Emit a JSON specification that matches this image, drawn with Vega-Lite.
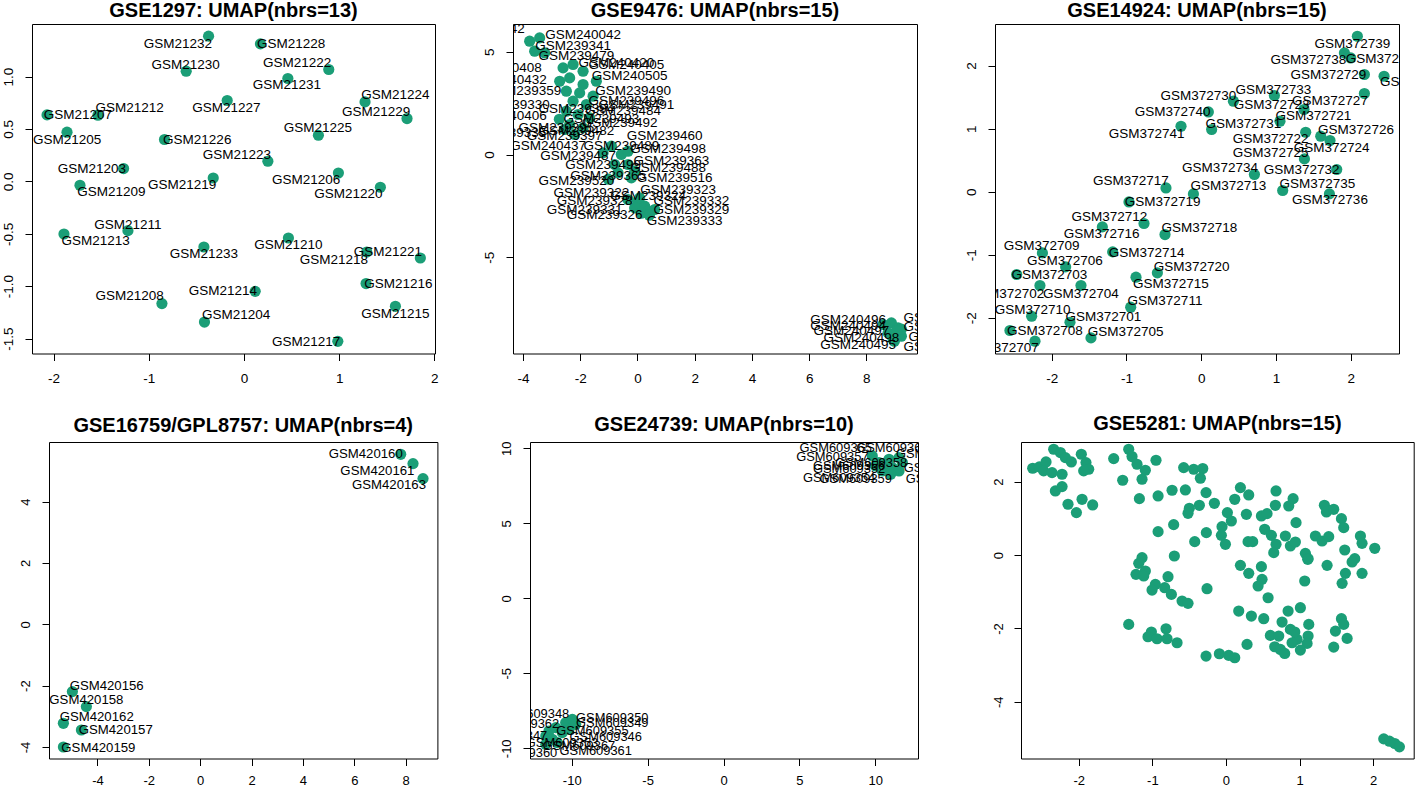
{
  "$schema": "https://vega.github.io/schema/vega-lite/v6.json",
  "background": "white",
  "padding": 0,
  "config": {
    "view": {"stroke": "#000", "strokeWidth": 1, "fill": "white"},
    "axis": {"domain": false, "grid": false, "tickSize": 7, "tickColor": "#000", "tickWidth": 1, "labelFont": "Liberation Sans", "labelFontSize": 13.5, "labelColor": "#000", "labelOverlap": false, "labelFlush": false, "labelBound": false, "titleOpacity": 0, "titleFontSize": 1, "titleFont": "Liberation Sans"},
    "axisX": {"labelPadding": 11, "labelBaseline": "top", "labelAngle": 0, "labelAlign": "center"},
    "axisY": {"labelPadding": 12.3, "labelAngle": -90, "labelAlign": "center", "labelBaseline": "alphabetic"},
    "title": {"font": "Liberation Sans", "fontSize": 20, "fontWeight": "bold", "color": "#000", "anchor": "middle", "baseline": "alphabetic", "frame": "group"},
    "text": {"font": "Liberation Sans", "fontSize": 13.5, "color": "#000", "align": "center", "baseline": "middle"},
    "circle": {"size": 125, "color": "#1B9E77", "opacity": 1}
  },
  "datasets": {
    "p1": [
      {"s": "GSM21232", "x": -0.372, "y": 1.385, "lx": -0.694, "ly": 1.311},
      {"s": "GSM21228", "x": 0.173, "y": 1.311, "lx": 0.496, "ly": 1.311},
      {"s": "GSM21230", "x": -0.607, "y": 1.051, "lx": -0.614, "ly": 1.114},
      {"s": "GSM21222", "x": 0.891, "y": 1.067, "lx": 0.559, "ly": 1.127},
      {"s": "GSM21231", "x": 0.461, "y": 0.981, "lx": 0.450, "ly": 0.917},
      {"s": "GSM21224", "x": 1.272, "y": 0.758, "lx": 1.591, "ly": 0.819},
      {"s": "GSM21229", "x": 1.713, "y": 0.599, "lx": 1.388, "ly": 0.659},
      {"s": "GSM21227", "x": -0.176, "y": 0.771, "lx": -0.184, "ly": 0.700},
      {"s": "GSM21212", "x": -1.534, "y": 0.631, "lx": -1.202, "ly": 0.700},
      {"s": "GSM21207", "x": -2.069, "y": 0.634, "lx": -1.744, "ly": 0.634},
      {"s": "GSM21205", "x": -1.859, "y": 0.469, "lx": -1.859, "ly": 0.399},
      {"s": "GSM21226", "x": -0.835, "y": 0.399, "lx": -0.491, "ly": 0.399},
      {"s": "GSM21225", "x": 0.782, "y": 0.440, "lx": 0.776, "ly": 0.510},
      {"s": "GSM21223", "x": 0.251, "y": 0.192, "lx": -0.075, "ly": 0.256},
      {"s": "GSM21203", "x": -1.265, "y": 0.122, "lx": -1.597, "ly": 0.122},
      {"s": "GSM21219", "x": -0.323, "y": 0.032, "lx": -0.649, "ly": -0.031},
      {"s": "GSM21206", "x": 0.992, "y": 0.080, "lx": 0.653, "ly": 0.010},
      {"s": "GSM21220", "x": 1.433, "y": -0.056, "lx": 1.097, "ly": -0.120},
      {"s": "GSM21209", "x": -1.723, "y": -0.037, "lx": -1.394, "ly": -0.104},
      {"s": "GSM21211", "x": -1.219, "y": -0.470, "lx": -1.219, "ly": -0.412},
      {"s": "GSM21213", "x": -1.891, "y": -0.502, "lx": -1.559, "ly": -0.572},
      {"s": "GSM21233", "x": -0.421, "y": -0.626, "lx": -0.421, "ly": -0.693},
      {"s": "GSM21210", "x": 0.467, "y": -0.540, "lx": 0.467, "ly": -0.610},
      {"s": "GSM21221", "x": 1.853, "y": -0.731, "lx": 1.511, "ly": -0.674},
      {"s": "GSM21218", "x": 1.290, "y": -0.674, "lx": 0.944, "ly": -0.746},
      {"s": "GSM21216", "x": 1.283, "y": -0.975, "lx": 1.622, "ly": -0.979},
      {"s": "GSM21215", "x": 1.591, "y": -1.192, "lx": 1.591, "ly": -1.262},
      {"s": "GSM21208", "x": -0.862, "y": -1.166, "lx": -1.202, "ly": -1.096},
      {"s": "GSM21214", "x": 0.118, "y": -1.049, "lx": -0.222, "ly": -1.049},
      {"s": "GSM21204", "x": -0.415, "y": -1.342, "lx": -0.082, "ly": -1.271},
      {"s": "GSM21217", "x": 0.986, "y": -1.526, "lx": 0.653, "ly": -1.532}
    ],
    "p2": [
      {"s": "GSM239342", "x": -3.768, "y": 5.519, "lx": -5.264, "ly": 6.103},
      {"s": "GSM240042", "x": -3.418, "y": 5.680, "lx": -1.901, "ly": 5.845},
      {"s": "GSM239341", "x": -3.593, "y": 5.032, "lx": -2.251, "ly": 5.275},
      {"s": "GSM240408", "x": -3.244, "y": 4.949, "lx": -4.670, "ly": 4.218},
      {"s": "GSM240432", "x": -2.600, "y": 4.218, "lx": -4.495, "ly": 3.653},
      {"s": "GSM240420", "x": -2.251, "y": 4.384, "lx": -0.738, "ly": 4.462},
      {"s": "GSM240405", "x": -1.901, "y": 4.057, "lx": -0.388, "ly": 4.384},
      {"s": "GSM239359", "x": -2.719, "y": 3.570, "lx": -3.988, "ly": 3.083},
      {"s": "GSM239479", "x": -2.370, "y": 3.731, "lx": -2.136, "ly": 4.788},
      {"s": "GSM240505", "x": -1.901, "y": 3.410, "lx": -0.273, "ly": 3.814},
      {"s": "GSM239490", "x": -1.437, "y": 3.570, "lx": -0.154, "ly": 3.083},
      {"s": "GSM239330", "x": -2.485, "y": 3.083, "lx": -4.390, "ly": 2.435},
      {"s": "GSM239394", "x": -2.020, "y": 3.000, "lx": -2.136, "ly": 2.207},
      {"s": "GSM239496", "x": -1.552, "y": 2.840, "lx": -0.388, "ly": 2.596},
      {"s": "GSM239482", "x": -2.251, "y": 2.596, "lx": -2.136, "ly": 1.135},
      {"s": "GSM239491", "x": -1.786, "y": 2.435, "lx": -0.038, "ly": 2.435},
      {"s": "GSM240406", "x": -2.485, "y": 2.109, "lx": -4.495, "ly": 1.866},
      {"s": "GSM239493", "x": -2.076, "y": 1.948, "lx": -1.262, "ly": 1.719},
      {"s": "GSM239484", "x": -1.671, "y": 1.783, "lx": -0.503, "ly": 2.109},
      {"s": "GSM239335", "x": -2.370, "y": 1.461, "lx": -4.512, "ly": 1.052},
      {"s": "GSM239492", "x": -1.901, "y": 1.296, "lx": -0.622, "ly": 1.539},
      {"s": "GSM239395", "x": -2.730, "y": 1.719, "lx": -2.835, "ly": 1.296},
      {"s": "GSM239397", "x": -2.195, "y": 0.974, "lx": -2.545, "ly": 0.891},
      {"s": "GSM240437", "x": -2.545, "y": 1.218, "lx": -3.125, "ly": 0.404},
      {"s": "GSM239460", "x": -0.912, "y": 0.404, "lx": 0.951, "ly": 0.891},
      {"s": "GSM239489", "x": -1.202, "y": 0.078, "lx": -0.563, "ly": 0.404},
      {"s": "GSM239487", "x": -0.563, "y": 0.0, "lx": -2.076, "ly": -0.083},
      {"s": "GSM239498", "x": -0.329, "y": 0.161, "lx": 1.070, "ly": 0.244},
      {"s": "GSM239499", "x": -0.797, "y": -0.487, "lx": -1.202, "ly": -0.487},
      {"s": "GSM239363", "x": -0.329, "y": -0.487, "lx": 1.185, "ly": -0.326},
      {"s": "GSM239365", "x": -0.678, "y": -0.896, "lx": -1.028, "ly": -1.057},
      {"s": "GSM239488", "x": -0.098, "y": -0.813, "lx": 1.070, "ly": -0.653},
      {"s": "GSM239516", "x": -0.213, "y": -1.140, "lx": 1.300, "ly": -1.140},
      {"s": "GSM239520", "x": -1.017, "y": -1.203, "lx": -2.136, "ly": -1.300},
      {"s": "GSM239322", "x": -0.329, "y": -2.192, "lx": -1.611, "ly": -1.870},
      {"s": "GSM239324", "x": 0.021, "y": -2.275, "lx": 0.371, "ly": -2.031},
      {"s": "GSM239331", "x": 0.252, "y": -2.518, "lx": -1.846, "ly": -2.679},
      {"s": "GSM239328", "x": -0.098, "y": -2.601, "lx": -1.496, "ly": -2.275},
      {"s": "GSM239329", "x": 0.370, "y": -2.762, "lx": 1.884, "ly": -2.679},
      {"s": "GSM239332", "x": 0.601, "y": -2.679, "lx": 1.884, "ly": -2.275},
      {"s": "GSM239323", "x": 0.077, "y": -2.114, "lx": 1.419, "ly": -1.705},
      {"s": "GSM239326", "x": 0.136, "y": -2.859, "lx": -1.146, "ly": -2.923},
      {"s": "GSM239333", "x": 0.416, "y": -2.957, "lx": 1.650, "ly": -3.249},
      {"s": "GSM240496", "x": 8.584, "y": -8.281, "lx": 7.361, "ly": -8.037},
      {"s": "GSM240494", "x": 8.875, "y": -8.203, "lx": 7.361, "ly": -8.364},
      {"s": "GSM240500", "x": 9.109, "y": -8.446, "lx": 10.622, "ly": -8.412},
      {"s": "GSM240497", "x": 8.759, "y": -8.690, "lx": 7.476, "ly": -8.573},
      {"s": "GSM240495", "x": 9.224, "y": -8.850, "lx": 7.711, "ly": -9.255},
      {"s": "GSM240498", "x": 8.934, "y": -9.011, "lx": 7.826, "ly": -8.933},
      {"s": "GSM240499", "x": 9.224, "y": -8.510, "lx": 10.622, "ly": -7.959},
      {"s": "GSM240501", "x": 9.049, "y": -8.607, "lx": 10.797, "ly": -8.899},
      {"s": "GSM240502", "x": 8.979, "y": -9.094, "lx": 10.622, "ly": -9.387}
    ],
    "p3": [
      {"s": "GSM372739", "x": 2.089, "y": 2.465, "lx": 2.022, "ly": 2.343},
      {"s": "GSM372738", "x": 1.916, "y": 2.200, "lx": 1.434, "ly": 2.085},
      {"s": "GSM372737", "x": 2.000, "y": 2.121, "lx": 2.442, "ly": 2.111},
      {"s": "GSM372729", "x": 2.183, "y": 1.858, "lx": 1.702, "ly": 1.858},
      {"s": "GSM372728", "x": 2.446, "y": 1.831, "lx": 2.900, "ly": 1.736},
      {"s": "GSM372727", "x": 2.183, "y": 1.557, "lx": 1.723, "ly": 1.435},
      {"s": "GSM372730", "x": 0.431, "y": 1.435, "lx": -0.037, "ly": 1.525},
      {"s": "GSM372733", "x": 0.979, "y": 1.525, "lx": 0.966, "ly": 1.620},
      {"s": "GSM372723", "x": 1.375, "y": 1.303, "lx": 0.943, "ly": 1.382},
      {"s": "GSM372740", "x": 0.096, "y": 1.265, "lx": -0.381, "ly": 1.260},
      {"s": "GSM372721", "x": 1.054, "y": 1.118, "lx": 1.501, "ly": 1.197},
      {"s": "GSM372731", "x": 0.140, "y": 0.986, "lx": 0.565, "ly": 1.075},
      {"s": "GSM372741", "x": -0.270, "y": 1.038, "lx": -0.729, "ly": 0.922},
      {"s": "GSM372726", "x": 1.599, "y": 0.880, "lx": 2.071, "ly": 0.986},
      {"s": "GSM372722", "x": 1.398, "y": 0.943, "lx": 0.930, "ly": 0.843},
      {"s": "GSM372724", "x": 1.723, "y": 0.811, "lx": 1.746, "ly": 0.694},
      {"s": "GSM372725", "x": 1.381, "y": 0.520, "lx": 0.930, "ly": 0.615},
      {"s": "GSM372734", "x": 0.712, "y": 0.273, "lx": 0.252, "ly": 0.377},
      {"s": "GSM372732", "x": 1.813, "y": 0.352, "lx": 1.344, "ly": 0.352},
      {"s": "GSM372717", "x": -0.471, "y": 0.060, "lx": -0.939, "ly": 0.166},
      {"s": "GSM372713", "x": -0.104, "y": -0.035, "lx": 0.364, "ly": 0.087},
      {"s": "GSM372735", "x": 1.090, "y": 0.019, "lx": 1.554, "ly": 0.124},
      {"s": "GSM372736", "x": 1.715, "y": -0.035, "lx": 1.723, "ly": -0.135},
      {"s": "GSM372719", "x": -0.966, "y": -0.162, "lx": -0.515, "ly": -0.162},
      {"s": "GSM372712", "x": -0.765, "y": -0.504, "lx": -1.228, "ly": -0.399},
      {"s": "GSM372716", "x": -1.322, "y": -0.558, "lx": -1.331, "ly": -0.663},
      {"s": "GSM372718", "x": -0.484, "y": -0.679, "lx": -0.025, "ly": -0.574},
      {"s": "GSM372709", "x": -2.124, "y": -0.970, "lx": -2.134, "ly": -0.864},
      {"s": "GSM372714", "x": -1.184, "y": -0.954, "lx": -0.729, "ly": -0.970},
      {"s": "GSM372706", "x": -1.813, "y": -1.192, "lx": -1.822, "ly": -1.091},
      {"s": "GSM372720", "x": -0.586, "y": -1.287, "lx": -0.127, "ly": -1.192},
      {"s": "GSM372703", "x": -2.468, "y": -1.313, "lx": -2.031, "ly": -1.313},
      {"s": "GSM372715", "x": -0.872, "y": -1.355, "lx": -0.404, "ly": -1.462},
      {"s": "GSM372702", "x": -2.157, "y": -1.487, "lx": -2.606, "ly": -1.614},
      {"s": "GSM372704", "x": -1.608, "y": -1.487, "lx": -1.608, "ly": -1.614},
      {"s": "GSM372711", "x": -0.943, "y": -1.831, "lx": -0.484, "ly": -1.736},
      {"s": "GSM372710", "x": -2.268, "y": -1.974, "lx": -2.254, "ly": -1.883},
      {"s": "GSM372701", "x": -1.755, "y": -2.069, "lx": -1.308, "ly": -1.985},
      {"s": "GSM372708", "x": -2.558, "y": -2.200, "lx": -2.090, "ly": -2.211},
      {"s": "GSM372705", "x": -1.474, "y": -2.318, "lx": -1.010, "ly": -2.223},
      {"s": "GSM372707", "x": -2.223, "y": -2.370, "lx": -2.678, "ly": -2.476}
    ],
    "p4": [
      {"s": "GSM420160", "x": 7.805, "y": 5.543, "lx": 6.442, "ly": 5.543},
      {"s": "GSM420161", "x": 8.284, "y": 5.240, "lx": 6.897, "ly": 4.998},
      {"s": "GSM420163", "x": 8.673, "y": 4.751, "lx": 7.349, "ly": 4.532},
      {"s": "GSM420156", "x": -4.975, "y": -2.194, "lx": -3.640, "ly": -2.012},
      {"s": "GSM420158", "x": -4.430, "y": -2.684, "lx": -4.430, "ly": -2.478},
      {"s": "GSM420162", "x": -5.325, "y": -3.228, "lx": -4.029, "ly": -3.009},
      {"s": "GSM420157", "x": -4.624, "y": -3.446, "lx": -3.289, "ly": -3.446},
      {"s": "GSM420159", "x": -5.325, "y": -4.001, "lx": -3.963, "ly": -4.021}
    ],
    "p5": [
      {"s": "GSM609348", "x": -11.71, "y": -9.18, "lx": -12.55, "ly": -7.73},
      {"s": "GSM609350", "x": -11.05, "y": -8.62, "lx": -7.33, "ly": -7.95},
      {"s": "GSM609349", "x": -10.40, "y": -8.29, "lx": -7.33, "ly": -8.29},
      {"s": "GSM609355", "x": -9.96, "y": -8.07, "lx": -8.64, "ly": -8.85},
      {"s": "GSM609346", "x": -11.28, "y": -9.40, "lx": -7.76, "ly": -9.25},
      {"s": "GSM609367", "x": -10.62, "y": -8.95, "lx": -9.52, "ly": -9.85},
      {"s": "GSM609361", "x": -10.95, "y": -9.62, "lx": -8.42, "ly": -10.18},
      {"s": "GSM609362", "x": -10.18, "y": -8.73, "lx": -13.21, "ly": -8.40},
      {"s": "GSM609347", "x": -11.50, "y": -8.85, "lx": -14.00, "ly": -9.18},
      {"s": "GSM609360", "x": -11.71, "y": -9.73, "lx": -13.34, "ly": -10.29},
      {"s": "GSM609353", "x": -9.74, "y": -8.40, "lx": -10.64, "ly": -9.67},
      {"s": "GSM609365", "x": 9.80, "y": 9.49, "lx": 7.39, "ly": 10.05},
      {"s": "GSM609357", "x": 10.24, "y": 9.05, "lx": 7.17, "ly": 9.45},
      {"s": "GSM609366", "x": 10.90, "y": 9.27, "lx": 11.12, "ly": 10.05},
      {"s": "GSM609364", "x": 11.56, "y": 9.38, "lx": 13.74, "ly": 9.60},
      {"s": "GSM609363", "x": 11.78, "y": 9.05, "lx": 14.26, "ly": 8.71},
      {"s": "GSM609356", "x": 11.12, "y": 8.71, "lx": 8.27, "ly": 8.82},
      {"s": "GSM609352", "x": 10.46, "y": 8.49, "lx": 8.27, "ly": 8.60},
      {"s": "GSM609351", "x": 11.56, "y": 8.49, "lx": 14.39, "ly": 7.93},
      {"s": "GSM609354", "x": 10.02, "y": 8.82, "lx": 7.61, "ly": 8.05},
      {"s": "GSM609359", "x": 11.01, "y": 8.27, "lx": 8.71, "ly": 7.93},
      {"s": "GSM609358", "x": 10.60, "y": 9.00, "lx": 9.72, "ly": 9.00}
    ],
    "p6": [
      {"x": -2.626, "y": 2.365}, {"x": -2.536, "y": 2.401}, {"x": -2.445, "y": 2.537}, {"x": -2.477, "y": 2.292},
      {"x": -2.341, "y": 2.883}, {"x": -2.250, "y": 2.792}, {"x": -2.182, "y": 2.655}, {"x": -2.101, "y": 2.537},
      {"x": -2.227, "y": 2.201}, {"x": -2.363, "y": 2.246}, {"x": -1.965, "y": 2.746}, {"x": -1.902, "y": 2.519},
      {"x": -1.865, "y": 2.337}, {"x": -1.933, "y": 2.292}, {"x": -2.318, "y": 1.746}, {"x": -2.227, "y": 1.865},
      {"x": -2.146, "y": 1.383}, {"x": -2.032, "y": 1.156}, {"x": -1.955, "y": 1.519}, {"x": -1.811, "y": 1.365},
      {"x": -1.525, "y": 2.628}, {"x": -1.403, "y": 2.037}, {"x": -1.321, "y": 2.883}, {"x": -1.276, "y": 2.683},
      {"x": -1.208, "y": 2.474}, {"x": -1.095, "y": 2.310}, {"x": -1.140, "y": 2.065}, {"x": -0.950, "y": 2.583},
      {"x": -1.176, "y": 1.537}, {"x": -0.922, "y": 1.610}, {"x": -0.732, "y": 1.765}, {"x": -0.551, "y": 1.774},
      {"x": -0.574, "y": 2.383}, {"x": -0.438, "y": 2.337}, {"x": -0.315, "y": 2.356}, {"x": -0.347, "y": 2.092},
      {"x": -0.270, "y": 1.701}, {"x": -0.157, "y": 1.410}, {"x": -0.361, "y": 1.355}, {"x": -0.497, "y": 1.274},
      {"x": -0.515, "y": 1.137}, {"x": -0.922, "y": 0.637}, {"x": -0.710, "y": 0.828}, {"x": -0.424, "y": 0.365},
      {"x": -0.266, "y": 0.610}, {"x": 0.020, "y": 1.156}, {"x": 0.120, "y": 1.519}, {"x": 0.197, "y": 1.837},
      {"x": 0.310, "y": 1.637}, {"x": 0.278, "y": 1.110}, {"x": -0.053, "y": 0.774}, {"x": 0.074, "y": 0.928},
      {"x": -0.062, "y": 0.537}, {"x": -0.007, "y": 0.292}, {"x": 0.301, "y": 0.365}, {"x": 0.364, "y": 0.365},
      {"x": 0.482, "y": 1.065}, {"x": 0.559, "y": 1.128}, {"x": 0.681, "y": 1.746}, {"x": 0.672, "y": 1.355},
      {"x": 0.854, "y": 1.337}, {"x": 0.913, "y": 1.537}, {"x": 0.953, "y": 0.883}, {"x": 0.527, "y": 0.701},
      {"x": 0.618, "y": 0.537}, {"x": 0.681, "y": 0.292}, {"x": 0.650, "y": 0.065}, {"x": 0.808, "y": 0.519},
      {"x": 0.876, "y": 0.246}, {"x": 0.944, "y": 0.356}, {"x": 1.216, "y": 0.519}, {"x": 1.307, "y": 0.383},
      {"x": 1.397, "y": 0.501}, {"x": 1.338, "y": 1.355}, {"x": 1.366, "y": 1.174}, {"x": 1.465, "y": 1.246},
      {"x": 1.570, "y": 0.992}, {"x": 1.601, "y": 0.746}, {"x": 1.828, "y": 0.519}, {"x": 1.850, "y": 0.319},
      {"x": 2.023, "y": 0.183}, {"x": 1.615, "y": 0.137}, {"x": 1.751, "y": -0.099}, {"x": 1.080, "y": 0.046},
      {"x": 1.117, "y": -0.099}, {"x": -0.701, "y": -0.026}, {"x": -1.140, "y": -0.072},
      {"x": -1.185, "y": -0.226}, {"x": -1.095, "y": -0.436}, {"x": -1.222, "y": -0.526}, {"x": -1.117, "y": -0.572},
      {"x": -0.787, "y": -0.590}, {"x": -0.959, "y": -0.799}, {"x": -1.004, "y": -0.954}, {"x": -0.832, "y": -0.890},
      {"x": -0.741, "y": -1.072}, {"x": -0.596, "y": -1.254}, {"x": -0.515, "y": -1.317}, {"x": -0.257, "y": -0.917},
      {"x": 0.197, "y": -0.281}, {"x": 0.310, "y": -0.499}, {"x": 0.482, "y": -0.317}, {"x": 0.491, "y": -0.663},
      {"x": 0.437, "y": -0.844}, {"x": 0.573, "y": -1.163}, {"x": 1.112, "y": -0.117}, {"x": 1.375, "y": -0.281},
      {"x": 1.715, "y": -0.190}, {"x": 1.624, "y": -0.499}, {"x": 1.850, "y": -0.499}, {"x": 1.579, "y": -0.772},
      {"x": 1.071, "y": -0.708}, {"x": 0.174, "y": -1.526}, {"x": 0.346, "y": -1.663}, {"x": 0.514, "y": -1.735},
      {"x": 0.763, "y": -1.826}, {"x": 0.845, "y": -1.526}, {"x": 1.012, "y": -1.435}, {"x": 1.126, "y": -1.890},
      {"x": 0.876, "y": -2.026}, {"x": 0.967, "y": -2.299}, {"x": 1.117, "y": -2.208}, {"x": 1.103, "y": -2.408},
      {"x": 1.012, "y": -2.590}, {"x": 0.604, "y": -2.190}, {"x": 0.718, "y": -2.208}, {"x": 0.663, "y": -2.499},
      {"x": 0.740, "y": -2.572}, {"x": 0.799, "y": -2.681}, {"x": 1.570, "y": -1.735}, {"x": 1.601, "y": -1.890},
      {"x": 1.488, "y": -2.072}, {"x": 1.647, "y": -2.272}, {"x": 1.465, "y": -2.508}, {"x": -1.321, "y": -1.890},
      {"x": -1.013, "y": -2.099}, {"x": -1.059, "y": -2.226}, {"x": -0.936, "y": -2.281}, {"x": -0.814, "y": -2.008},
      {"x": -0.800, "y": -2.281}, {"x": -0.664, "y": -2.390}, {"x": -0.270, "y": -2.754}, {"x": -0.089, "y": -2.690},
      {"x": 0.038, "y": -2.735}, {"x": 0.120, "y": -2.799}, {"x": 0.287, "y": -2.435}, {"x": 2.145, "y": -5.008},
      {"x": 2.222, "y": -5.072}, {"x": 2.295, "y": -5.135}, {"x": 2.358, "y": -5.226}, {"x": 0.936, "y": -2.099},
      {"x": 0.899, "y": -2.390}
    ]
  },
  "spacing": 0,
  "vconcat": [
    {
      "spacing": 0,
      "hconcat": [
        {"width": 1, "height": 1, "data": {"values": []}, "mark": {"type": "point", "opacity": 0, "size": 0}, "view": {"stroke": null, "fill": null}},
        {
          "width": 403, "height": 329.5,
          "title": {"text": "GSE1297: UMAP(nbrs=13)", "offset": 2.8},
          "data": {"name": "p1"},
          "layer": [
            {"mark": {"type": "circle", "clip": true},
             "encoding": {
               "x": {"field": "x", "type": "quantitative", "scale": {"domain": [-2.227, 2.007], "nice": false, "zero": false}, "axis": {"title": " ", "titleX": 409, "titleY": 57.6, "values": [-2, -1, 0, 1, 2], "format": "d", "labelExpr": "replace(datum.label, '\u2212', '-')"}},
               "y": {"field": "y", "type": "quantitative", "scale": {"domain": [-1.642, 1.501], "nice": false, "zero": false}, "axis": {"title": " ", "titleX": -28.8, "titleY": 164, "values": [-1.5, -1, -0.5, 0, 0.5, 1], "format": ".1f", "labelExpr": "replace(datum.label, '\u2212', '-')"}}
             }},
            {"mark": {"type": "text", "clip": true},
             "encoding": {
               "x": {"field": "lx", "type": "quantitative", "axis": {"title": " ", "titleX": 409, "titleY": 57.6, "values": [-2, -1, 0, 1, 2], "format": "d", "labelExpr": "replace(datum.label, '\u2212', '-')"}},
               "y": {"field": "ly", "type": "quantitative", "axis": {"title": " ", "titleX": -28.8, "titleY": 164, "values": [-1.5, -1, -0.5, 0, 0.5, 1], "format": ".1f", "labelExpr": "replace(datum.label, '\u2212', '-')"}},
               "text": {"field": "s"}
             }}
          ]
        },
        {
          "width": 404, "height": 329.5,
          "title": {"text": "GSE9476: UMAP(nbrs=15)", "offset": 2.8},
          "data": {"name": "p2"},
          "layer": [
            {"mark": {"type": "circle", "clip": true},
             "encoding": {
               "x": {"field": "x", "type": "quantitative", "scale": {"domain": [-4.35, 9.77], "nice": false, "zero": false}, "axis": {"title": " ", "titleX": 406, "titleY": 57.6, "values": [-4, -2, 0, 2, 4, 6, 8], "format": "d", "labelExpr": "replace(datum.label, '\u2212', '-')"}},
               "y": {"field": "y", "type": "quantitative", "scale": {"domain": [-9.693, 6.357], "nice": false, "zero": false}, "axis": {"title": " ", "titleX": -68.9, "titleY": 164, "values": [-5, 0, 5], "format": "d", "labelExpr": "replace(datum.label, '\u2212', '-')"}}
             }},
            {"mark": {"type": "text", "clip": true},
             "encoding": {
               "x": {"field": "lx", "type": "quantitative", "axis": {"title": " ", "titleX": 406, "titleY": 57.6, "values": [-4, -2, 0, 2, 4, 6, 8], "format": "d", "labelExpr": "replace(datum.label, '\u2212', '-')"}},
               "y": {"field": "ly", "type": "quantitative", "axis": {"title": " ", "titleX": -68.9, "titleY": 164, "values": [-5, 0, 5], "format": "d", "labelExpr": "replace(datum.label, '\u2212', '-')"}},
               "text": {"field": "s"}
             }}
          ]
        },
        {
          "width": 404, "height": 329.5,
          "title": {"text": "GSE14924: UMAP(nbrs=15)", "offset": 2.8},
          "data": {"name": "p3"},
          "layer": [
            {"mark": {"type": "circle", "clip": true},
             "encoding": {
               "x": {"field": "x", "type": "quantitative", "scale": {"domain": [-2.758, 2.646], "nice": false, "zero": false}, "axis": {"title": " ", "titleX": 406, "titleY": 57.6, "values": [-2, -1, 0, 1, 2], "format": "d", "labelExpr": "replace(datum.label, '\u2212', '-')"}},
               "y": {"field": "y", "type": "quantitative", "scale": {"domain": [-2.565, 2.659], "nice": false, "zero": false}, "axis": {"title": " ", "titleX": -72.9, "titleY": 164, "values": [-2, -1, 0, 1, 2], "format": "d", "labelExpr": "replace(datum.label, '\u2212', '-')"}}
             }},
            {"mark": {"type": "text", "clip": true},
             "encoding": {
               "x": {"field": "lx", "type": "quantitative", "axis": {"title": " ", "titleX": 406, "titleY": 57.6, "values": [-2, -1, 0, 1, 2], "format": "d", "labelExpr": "replace(datum.label, '\u2212', '-')"}},
               "y": {"field": "ly", "type": "quantitative", "axis": {"title": " ", "titleX": -72.9, "titleY": 164, "values": [-2, -1, 0, 1, 2], "format": "d", "labelExpr": "replace(datum.label, '\u2212', '-')"}},
               "text": {"field": "s"}
             }}
          ]
        }
      ]
    },
    {
      "spacing": 0,
      "hconcat": [
        {"width": 1, "height": 1, "data": {"values": []}, "mark": {"type": "point", "opacity": 0, "size": 0}, "view": {"stroke": null, "fill": null}},
        {
          "width": 388.4, "height": 316.5,
          "title": {"text": "GSE16759/GPL8757: UMAP(nbrs=4)", "offset": 6},
          "data": {"name": "p4"},
          "layer": [
            {"mark": {"type": "circle", "clip": true},
             "encoding": {
               "x": {"field": "x", "type": "quantitative", "scale": {"domain": [-5.885, 9.233], "nice": false, "zero": false}, "axis": {"title": " ", "titleX": 390.4, "titleY": 19.2, "values": [-4, -2, 0, 2, 4, 6, 8], "format": "d", "labelFontSize": 13, "labelPadding": 9, "labelExpr": "replace(datum.label, '\u2212', '-')"}},
               "y": {"field": "y", "type": "quantitative", "scale": {"domain": [-4.376, 5.944], "nice": false, "zero": false}, "axis": {"title": " ", "titleX": -46.1, "titleY": 158, "values": [-4, -2, 0, 2, 4], "format": "d", "labelFontSize": 13, "labelPadding": 13, "labelExpr": "replace(datum.label, '\u2212', '-')"}}
             }},
            {"mark": {"type": "text", "clip": true, "fontSize": 13.2},
             "encoding": {
               "x": {"field": "lx", "type": "quantitative", "axis": {"title": " ", "titleX": 390.4, "titleY": 19.2, "values": [-4, -2, 0, 2, 4, 6, 8], "format": "d", "labelFontSize": 13, "labelPadding": 9, "labelExpr": "replace(datum.label, '\u2212', '-')"}},
               "y": {"field": "ly", "type": "quantitative", "axis": {"title": " ", "titleX": -46.1, "titleY": 158, "values": [-4, -2, 0, 2, 4], "format": "d", "labelFontSize": 13, "labelPadding": 13, "labelExpr": "replace(datum.label, '\u2212', '-')"}},
               "text": {"field": "s"}
             }}
          ]
        },
        {
          "width": 388, "height": 316.5,
          "title": {"text": "GSE24739: UMAP(nbrs=10)", "offset": 6},
          "data": {"name": "p5"},
          "layer": [
            {"mark": {"type": "circle", "clip": true},
             "encoding": {
               "x": {"field": "x", "type": "quantitative", "scale": {"domain": [-12.75, 12.81], "nice": false, "zero": false}, "axis": {"title": " ", "titleX": 390, "titleY": 19.2, "values": [-10, -5, 0, 5, 10], "format": "d", "labelFontSize": 13, "labelPadding": 9, "labelExpr": "replace(datum.label, '\u2212', '-')"}},
               "y": {"field": "y", "type": "quantitative", "scale": {"domain": [-10.68, 10.42], "nice": false, "zero": false}, "axis": {"title": " ", "titleX": -88.1, "titleY": 158, "values": [-10, -5, 0, 5, 10], "format": "d", "labelFontSize": 13, "labelPadding": 12.3, "labelExpr": "replace(datum.label, '\u2212', '-')"}}
             }},
            {"mark": {"type": "text", "clip": true, "fontSize": 12.9},
             "encoding": {
               "x": {"field": "lx", "type": "quantitative", "axis": {"title": " ", "titleX": 390, "titleY": 19.2, "values": [-10, -5, 0, 5, 10], "format": "d", "labelFontSize": 13, "labelPadding": 9, "labelExpr": "replace(datum.label, '\u2212', '-')"}},
               "y": {"field": "ly", "type": "quantitative", "axis": {"title": " ", "titleX": -88.1, "titleY": 158, "values": [-10, -5, 0, 5, 10], "format": "d", "labelFontSize": 13, "labelPadding": 12.3, "labelExpr": "replace(datum.label, '\u2212', '-')"}},
               "text": {"field": "s"}
             }}
          ]
        },
        {
          "width": 392.7, "height": 316.5,
          "title": {"text": "GSE5281: UMAP(nbrs=15)", "offset": 8},
          "data": {"name": "p6"},
          "mark": {"type": "circle", "clip": true},
          "encoding": {
            "x": {"field": "x", "type": "quantitative", "scale": {"domain": [-2.785, 2.552], "nice": false, "zero": false}, "axis": {"title": " ", "titleX": 393.2, "titleY": 19.2, "values": [-2, -1, 0, 1, 2], "format": "d", "labelFontSize": 13, "labelPadding": 9, "labelExpr": "replace(datum.label, '\u2212', '-')"}},
            "y": {"field": "y", "type": "quantitative", "scale": {"domain": [-5.544, 3.08], "nice": false, "zero": false}, "axis": {"title": " ", "titleX": -98.1, "titleY": 158, "values": [-4, -2, 0, 2], "format": "d", "labelFontSize": 13, "labelPadding": 12, "labelExpr": "replace(datum.label, '\u2212', '-')"}}
          }
        }
      ]
    }
  ]
}
